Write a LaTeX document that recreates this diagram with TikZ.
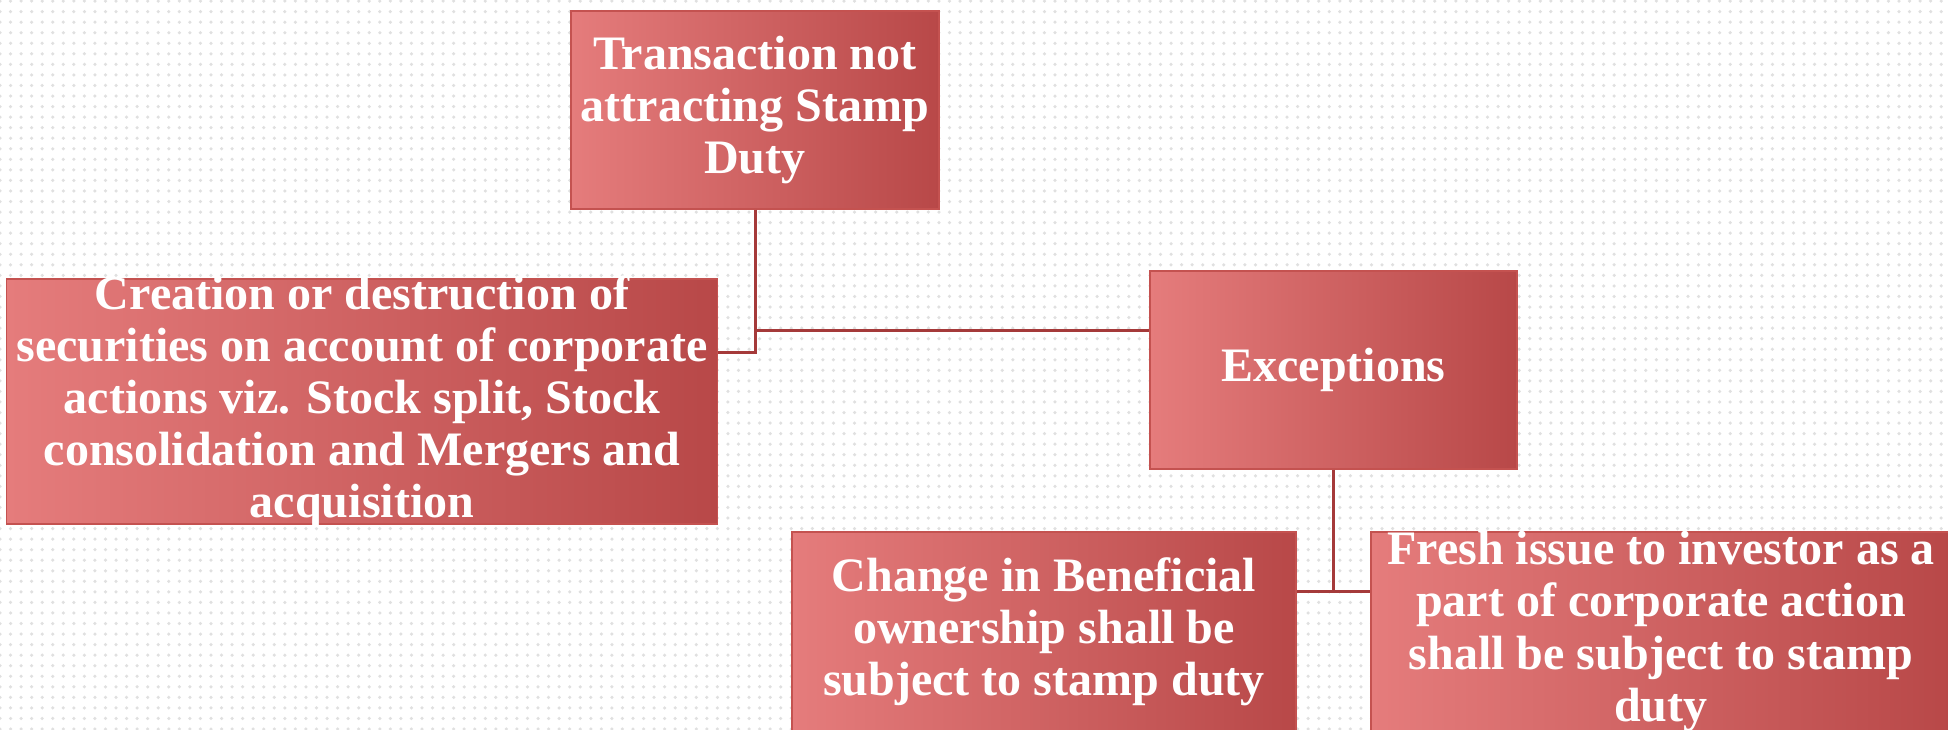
\documentclass[tikz,border=0pt]{standalone}
\usepackage{fontspec}
\setmainfont{Liberation Serif}
\usetikzlibrary{calc,patterns}
\definecolor{boxlight}{RGB}{229,124,124}
\definecolor{boxdark}{RGB}{184,72,72}
\definecolor{boxline}{RGB}{196,82,80}
\definecolor{linkred}{RGB}{165,58,58}

\begin{document}
\begin{tikzpicture}[x=0.01cm,y=-0.01cm,
	box/.style={draw=boxline, left color=boxlight, right color=boxdark, inner sep=0pt},
	boxtext/.style={inner sep=0pt, align=center, text=white,
		font={\bfseries\fontsize{13.66pt}{14.8pt}\selectfont}},
	link/.style={linkred, line width=0.03cm}]
	% background
	\fill[white] (0,0) rectangle (1948,729);
	\fill[pattern=dots, pattern color=black!12] (0,0) rectangle (1948,729);
	\useasboundingbox (0,0) rectangle (1948,729);
	% boxes
	\node[box, minimum width=3.68cm, minimum height=1.98cm] (trans) at (755,110) {};
	\node[boxtext] (trans-t) at (trans) {Transaction not\\attracting Stamp\\Duty};
	\node[box, minimum width=7.1cm, minimum height=2.45cm] (creation) at (362,401.5) {};
	\node[boxtext] (creation-t) at (creation) {Creation or destruction of\\securities on account of corporate\\actions viz. Stock split, Stock\\consolidation and Mergers and\\acquisition};
	\node[box, minimum width=3.67cm, minimum height=1.98cm] (except) at (1333.5,370) {};
	\node[boxtext] (except-t) at (except) {Exceptions};
	\node[box, minimum width=5.04cm, minimum height=1.99cm] (change) at (1044,631.5) {};
	\node[boxtext] (change-t) at (change) {Change in Beneficial\\ownership shall be\\subject to stamp duty};
	\node[box, minimum width=5.8cm, minimum height=1.99cm] (fresh) at (1661,631.5) {};
	\node[boxtext] (fresh-t) at (fresh) {Fresh issue to investor as a\\part of corporate action\\shall be subject to stamp\\duty};
	% connectors
	\draw[link] (trans.south) |- ($(creation.north east)!0.3!(creation.south east)$);
	\draw[link] (trans.south) |- ($(except.north west)!0.3!(except.south west)$);
	\draw[link] (except.south) |- ($(change.north east)!0.3!(change.south east)$);
	\draw[link] (except.south) |- ($(fresh.north west)!0.3!(fresh.south west)$);
\end{tikzpicture}
\end{document}
